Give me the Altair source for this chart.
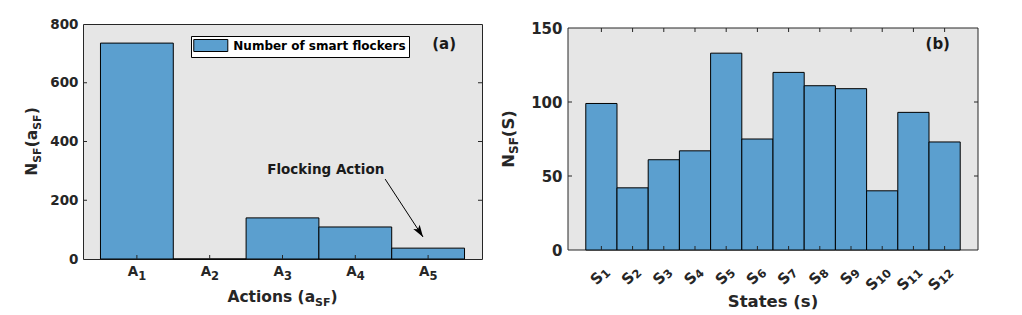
import altair as alt
import pandas as pd

# ---------------- data ----------------
# Panel (a)
actions = [1, 2, 3, 4, 5]
action_sub = ["1", "2", "3", "4", "5"]
action_counts = [735, 0, 140, 109, 37]
series_name = "Number of smart flockers"
y_ticks_a = [0, 200, 400, 600, 800]
y_inner_a = [200, 400, 600]

# Panel (b)
states = [1, 2, 3, 4, 5, 6, 7, 8, 9, 10, 11, 12]
state_sub = ["1", "2", "3", "4", "5", "6", "7", "8", "9", "10", "11", "12"]
state_counts = [99, 42, 61, 67, 133, 75, 120, 111, 109, 40, 93, 73]
y_ticks_b = [0, 50, 100, 150]
y_inner_b = [50, 100]

# annotation (panel a, data coordinates)
annot_text = "Flocking Action"
annot_x, annot_y = 2.79, 303
arrow_x0, arrow_y0 = 4.41, 272
arrow_x1, arrow_y1 = 4.93, 75

# ---------------- style ----------------
FONT = "DejaVu Sans"
TXT = "#262626"
AXC = "#262626"
BG = "#e6e6e6"
BLUE = "#5b9fcf"

W1, H1 = 399, 235
W2, H2 = 410, 226
XA = [0.26, 5.74]
XB = [-0.07, 13.07]
YB_TOP = 150 * H2 / 222.0

df_a = pd.DataFrame({"a": actions, "sub": action_sub, "n": action_counts,
                     "series": [series_name] * len(actions)})
df_a["x0"] = df_a["a"] - 0.5
df_a["x1"] = df_a["a"] + 0.5
df_a["z"] = 0

df_b = pd.DataFrame({"s": states, "sub": state_sub, "n": state_counts})
df_b["x0"] = df_b["s"] - 0.5
df_b["x1"] = df_b["s"] + 0.5
df_b["z"] = 0

ONE = pd.DataFrame({"k": [0]})

xs_a = alt.Scale(domain=XA, nice=False, zero=False)
ys_a = alt.Scale(domain=[0, 800], nice=False)
xs_b = alt.Scale(domain=XB, nice=False, zero=False)
ys_b = alt.Scale(domain=[0, YB_TOP], nice=False)


def txt(s, x, y, size, dx=0, dy=0, align="left", baseline="alphabetic", angle=0, color=TXT):
    return alt.Chart(ONE).mark_text(
        text=s, font=FONT, fontWeight="bold", fontSize=size, align=align,
        baseline=baseline, dx=dx, dy=dy, angle=angle, color=color
    ).encode(x=alt.value(x), y=alt.value(y))


def yaxis(vals, size, pad):
    return alt.Axis(values=vals, ticks=False, domain=False, grid=False, title=None,
                    labelPadding=pad, labelFont=FONT, labelFontSize=size,
                    labelFontWeight="bold", labelColor=TXT)


# ---------------- panel (a) ----------------
legend_a = alt.Legend(
    orient="none", legendX=108, legendY=12, title=None,
    symbolType="M-1.12,-1H4.55V1H-1.12Z", symbolSize=144,
    symbolStrokeColor="black", symbolStrokeWidth=1,
    fillColor="white", strokeColor="black", padding=3,
    labelFont=FONT, labelFontSize=12, labelFontWeight="bold", labelColor="black",
    labelOffset=26.3, rowPadding=0, labelLimit=400,
)

bars_a = alt.Chart(df_a).mark_rect(stroke="black", strokeWidth=1).encode(
    x=alt.X("x0:Q", scale=xs_a, axis=None), x2="x1:Q",
    y=alt.Y("n:Q", scale=ys_a, axis=yaxis(y_ticks_a, 13.5, 5)), y2="z:Q",
    color=alt.Color("series:N", scale=alt.Scale(range=[BLUE]), legend=legend_a),
)

tick_a_bottom = alt.Chart(df_a).mark_rule(color=AXC, strokeWidth=1).encode(
    x=alt.X("a:Q", scale=xs_a), y=alt.value(H1), y2=alt.value(H1 - 4))
df_ya = pd.DataFrame({"v": y_inner_a})
tick_a_left = alt.Chart(df_ya).mark_rule(color=AXC, strokeWidth=1).encode(
    y=alt.Y("v:Q", scale=ys_a), x=alt.value(0), x2=alt.value(4))
tick_a_right = alt.Chart(df_ya).mark_rule(color=AXC, strokeWidth=1).encode(
    y=alt.Y("v:Q", scale=ys_a), x=alt.value(W1 - 4), x2=alt.value(W1))

lab_a_main = alt.Chart(df_a).mark_text(
    text="A", font=FONT, fontWeight="bold", fontSize=13.5, align="right",
    baseline="middle", dx=1.4, color=TXT
).encode(x=alt.X("a:Q", scale=xs_a), y=alt.value(H1 + 12.5))
lab_a_sub = alt.Chart(df_a).mark_text(
    font=FONT, fontWeight="bold", fontSize=11.5, align="left",
    baseline="middle", dx=1.4, dy=5, color=TXT
).encode(x=alt.X("a:Q", scale=xs_a), y=alt.value(H1 + 12.5), text="sub:N")

# x title: Actions (a_SF)
fa, sa = 15.5, 11
xt_y = H1 + 43
xt_a = [
    txt("Actions (a", W1 / 2, xt_y, fa, dx=-55.1),
    txt("SF", W1 / 2, xt_y, sa, dx=32.6, dy=4),
    txt(")", W1 / 2, xt_y, fa, dx=48.0),
]
# y title: N_SF(a_SF)
yt_x = -46
yt_a = [
    txt("N", yt_x, H1 / 2, fa, dx=-34.2, angle=270),
    txt("SF", yt_x, H1 / 2, sa, dx=-21.3, dy=4, angle=270),
    txt("(a", yt_x, H1 / 2, fa, dx=-5.8, angle=270),
    txt("SF", yt_x, H1 / 2, sa, dx=11.7, dy=4, angle=270),
    txt(")", yt_x, H1 / 2, fa, dx=27.2, angle=270),
]

df_arrow = pd.DataFrame({"x": [arrow_x0], "y": [arrow_y0], "x2": [arrow_x1], "y2": [arrow_y1]})
arrow_line = alt.Chart(df_arrow).mark_rule(color="black", strokeWidth=1).encode(
    x=alt.X("x:Q", scale=xs_a), y=alt.Y("y:Q", scale=ys_a), x2="x2:Q", y2="y2:Q")
arrow_head = alt.Chart(df_arrow).mark_point(
    shape="M0,0L-0.35,1.1L0,0.85L0.35,1.1Z", filled=True, size=475, angle=146.8,
    color="black", opacity=1, strokeWidth=0
).encode(x=alt.X("x2:Q", scale=xs_a), y=alt.Y("y2:Q", scale=ys_a))

df_annot = pd.DataFrame({"x": [annot_x], "y": [annot_y], "t": [annot_text]})
annot = alt.Chart(df_annot).mark_text(
    font=FONT, fontWeight="bold", fontSize=13.5, align="left", baseline="middle", color="#1a1a1a"
).encode(x=alt.X("x:Q", scale=xs_a), y=alt.Y("y:Q", scale=ys_a), text="t:N")

df_pa = pd.DataFrame({"x": [5.22], "y": [732], "t": ["(a)"]})
panel_a_tag = alt.Chart(df_pa).mark_text(
    font=FONT, fontWeight="bold", fontSize=15, align="center", baseline="middle", color="#1a1a1a"
).encode(x=alt.X("x:Q", scale=xs_a), y=alt.Y("y:Q", scale=ys_a), text="t:N")

left = alt.layer(
    bars_a, tick_a_bottom, tick_a_left, tick_a_right, lab_a_main, lab_a_sub,
    arrow_line, arrow_head, annot, panel_a_tag, *xt_a, *yt_a
).properties(width=W1, height=H1,
             view=alt.ViewBackground(fill=BG, stroke=AXC, strokeWidth=1))

# ---------------- panel (b) ----------------
df_frame = pd.DataFrame({"x0": [XB[0]], "x1": [XB[1]], "y0": [0], "y1": [150]})
frame_b = alt.Chart(df_frame).mark_rect(fill=BG, stroke=AXC, strokeWidth=1).encode(
    x=alt.X("x0:Q", scale=xs_b, axis=None), x2="x1:Q",
    y=alt.Y("y0:Q", scale=ys_b, axis=yaxis(y_ticks_b, 15, 6)), y2="y1:Q")

bars_b = alt.Chart(df_b).mark_rect(fill=BLUE, stroke="black", strokeWidth=1).encode(
    x=alt.X("x0:Q", scale=xs_b, axis=None), x2="x1:Q",
    y=alt.Y("n:Q", scale=ys_b), y2="z:Q")

top_px = H2 * (1 - 150 / YB_TOP)
tick_b_bottom = alt.Chart(df_b).mark_rule(color=AXC, strokeWidth=1).encode(
    x=alt.X("s:Q", scale=xs_b), y=alt.value(H2), y2=alt.value(H2 - 4))
tick_b_top = alt.Chart(df_b).mark_rule(color=AXC, strokeWidth=1).encode(
    x=alt.X("s:Q", scale=xs_b), y=alt.value(top_px), y2=alt.value(top_px + 4))
df_yb = pd.DataFrame({"v": y_inner_b})
tick_b_left = alt.Chart(df_yb).mark_rule(color=AXC, strokeWidth=1).encode(
    y=alt.Y("v:Q", scale=ys_b), x=alt.value(0), x2=alt.value(4))
tick_b_right = alt.Chart(df_yb).mark_rule(color=AXC, strokeWidth=1).encode(
    y=alt.Y("v:Q", scale=ys_b), x=alt.value(W2 - 4), x2=alt.value(W2))

LY = H2 + 19
lab_b_s1 = alt.Chart(df_b).transform_filter("length(datum.sub) == 1").mark_text(
    text="S", font=FONT, fontWeight="bold", fontSize=15, align="right", baseline="middle",
    angle=315, dx=3.5 - 8.0, dy=3.5, color=TXT
).encode(x=alt.X("s:Q", scale=xs_b), y=alt.value(LY))
lab_b_s2 = alt.Chart(df_b).transform_filter("length(datum.sub) == 2").mark_text(
    text="S", font=FONT, fontWeight="bold", fontSize=15, align="right", baseline="middle",
    angle=315, dx=3.5 - 16.0, dy=3.5, color=TXT
).encode(x=alt.X("s:Q", scale=xs_b), y=alt.value(LY))
lab_b_sub = alt.Chart(df_b).mark_text(
    font=FONT, fontWeight="bold", fontSize=11.5, align="right", baseline="middle",
    angle=315, dx=3.5, dy=7.5, color=TXT
).encode(x=alt.X("s:Q", scale=xs_b), y=alt.value(LY), text="sub:N")

fb, sb = 16.5, 12
xt_b = txt("States (s)", W2 / 2, H2 + 57, fb, align="center")
ybc = (top_px + H2) / 2
yt_bx = -54
yt_b = [
    txt("N", yt_bx, ybc, fb, dx=-28.8, angle=270),
    txt("SF", yt_bx, ybc, sb, dx=-15.0, dy=4, angle=270),
    txt("(S)", yt_bx, ybc, fb, dx=1.84, angle=270),
]

df_pb = pd.DataFrame({"x": [11.78], "y": [139.2], "t": ["(b)"]})
panel_b_tag = alt.Chart(df_pb).mark_text(
    font=FONT, fontWeight="bold", fontSize=15, align="center", baseline="middle", color="#1a1a1a"
).encode(x=alt.X("x:Q", scale=xs_b), y=alt.Y("y:Q", scale=ys_b), text="t:N")

right = alt.layer(
    frame_b, bars_b, tick_b_bottom, tick_b_top, tick_b_left, tick_b_right,
    lab_b_s1, lab_b_s2, lab_b_sub, panel_b_tag, xt_b, *yt_b
).properties(width=W2, height=H2,
             view=alt.ViewBackground(fill="transparent", stroke="transparent"))

chart = alt.hconcat(left, right, spacing=17).properties(
    padding={"left": 16, "top": 8, "right": 0, "bottom": 0},
    background="white",
)

chart.save("out.html", embed_options={"renderer": "svg", "actions": False})
